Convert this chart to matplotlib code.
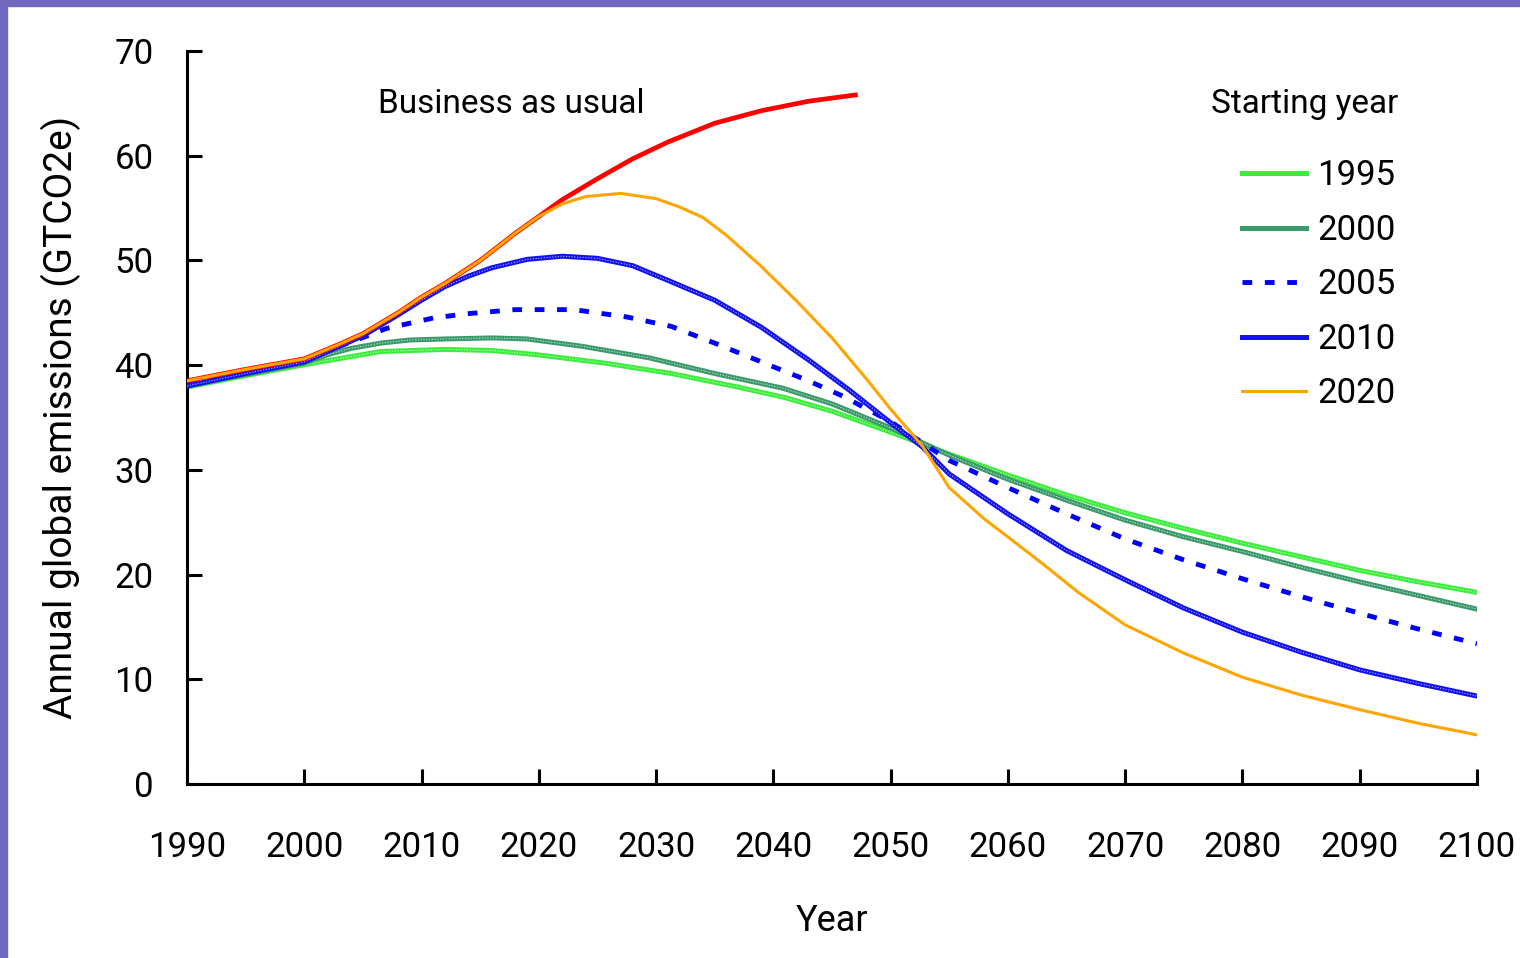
import matplotlib
matplotlib.use("Agg")
import matplotlib.pyplot as plt
import matplotlib.patches as mpatches

plt.rcParams["font.family"] = ["Roboto", "DejaVu Sans"]

# Business as usual
bau_years = [1990, 1995, 2000, 2003, 2005, 2008, 2010, 2012, 2015, 2018, 2020, 2022,
             2025, 2028, 2031, 2035, 2039, 2043, 2047]
bau_vals = [38.5, 39.6, 40.6, 42.0, 43.0, 45.0, 46.5, 47.8, 50.0, 52.6, 54.2, 55.8,
            57.8, 59.7, 61.3, 63.1, 64.3, 65.2, 65.8]

# Starting year 1995
y1995 = [1990, 1995, 2000.8, 2006.5, 2012, 2016, 2019.8, 2025.6, 2031.3, 2037, 2041, 2045,
         2050, 2055, 2060, 2065, 2070, 2075, 2080, 2085, 2090, 2095, 2100]
v1995 = [37.9, 39.0, 40.2, 41.3, 41.5, 41.4, 41.0, 40.2, 39.2, 37.9, 36.9, 35.6,
         33.6, 31.5, 29.5, 27.6, 25.9, 24.4, 23.0, 21.7, 20.4, 19.3, 18.3]

# Starting year 2000
y2000 = [1990, 1995, 2000, 2002, 2004, 2006.5, 2009, 2012, 2016, 2019, 2023.7, 2029.4,
         2035, 2040.8, 2045, 2050, 2055, 2060, 2065, 2070, 2075, 2080, 2085, 2090, 2095,
         2100]
v2000 = [38.0, 39.1, 40.2, 41.0, 41.6, 42.1, 42.4, 42.5, 42.6, 42.5, 41.8, 40.7,
         39.2, 37.8, 36.3, 34.0, 31.4, 29.1, 27.1, 25.2, 23.6, 22.2, 20.7, 19.3, 18.0,
         16.7]

# Starting year 2005
y2005 = [1990, 1995, 2000, 2003, 2005.4, 2007, 2009, 2011, 2013.8, 2018, 2023, 2027.5,
         2031.3, 2035, 2039, 2043, 2046, 2050, 2052.7, 2055, 2060, 2065, 2070, 2075,
         2080, 2085, 2090, 2095, 2100]
v2005 = [38.2, 39.3, 40.4, 41.8, 42.8, 43.5, 44.0, 44.5, 44.9, 45.3, 45.3, 44.6,
         43.7, 42.1, 40.3, 38.5, 37.0, 34.6, 32.6, 30.9, 28.3, 25.8, 23.4, 21.4,
         19.6, 17.9, 16.3, 14.8, 13.4]

# Starting year 2010
y2010 = [1990, 1995, 2000, 2005, 2008, 2010, 2012, 2014, 2016, 2019, 2022, 2025, 2028,
         2031, 2035, 2039, 2043, 2046.5, 2050, 2052.7, 2055, 2060, 2065, 2070, 2075, 2080,
         2085, 2090, 2095, 2100]
v2010 = [38.0, 39.2, 40.3, 42.8, 44.8, 46.2, 47.5, 48.5, 49.3, 50.1, 50.4, 50.2, 49.5,
         48.1, 46.2, 43.6, 40.5, 37.6, 34.5, 32.2, 29.6, 25.8, 22.3, 19.5, 16.8, 14.5,
         12.6, 10.9, 9.6, 8.4]

# Starting year 2020
y2020 = [1990, 1995, 2000, 2003, 2005, 2008, 2010, 2012, 2015, 2018, 2020, 2022, 2024,
         2027, 2030, 2032, 2034, 2036, 2039, 2042, 2045, 2048, 2050, 2052.7, 2055, 2058,
         2060, 2063, 2066, 2070, 2075, 2080, 2085, 2090, 2095, 2100]
v2020 = [38.5, 39.6, 40.6, 42.0, 43.0, 45.0, 46.5, 47.8, 50.0, 52.6, 54.2, 55.4, 56.1,
         56.4, 55.9, 55.1, 54.1, 52.4, 49.4, 46.1, 42.6, 38.6, 35.8, 32.3, 28.3, 25.3,
         23.6, 21.0, 18.3, 15.2, 12.5, 10.2, 8.5, 7.1, 5.8, 4.7]

xticks = list(range(1990, 2101, 10))
yticks = list(range(0, 71, 10))

fig = plt.figure(figsize=(15.2, 9.58), dpi=100)
ax = fig.add_axes([0.123, 0.1816, 0.8487, 0.7652])

dots = dict(color="white", lw=0.8, ls=(0, (1, 1.5)), alpha=0.7)

ax.plot(y1995, v1995, color="#3CEE3C", lw=3.6, zorder=2, label="1995")
ax.plot(y1995, v1995, zorder=2.1, **dots)
ax.plot(y2000, v2000, color="#3A9A6A", lw=3.6, zorder=3, label="2000")
ax.plot(y2000, v2000, zorder=3.1, **dots)
ax.plot(y2005, v2005, color="#0000FF", lw=3.5, ls=(0, (2, 2.6)), zorder=4, label="2005")
ax.plot(y2010, v2010, color="#1010F0", lw=3.6, zorder=5, label="2010")
ax.plot(y2010, v2010, zorder=5.1, **dots)
ax.plot(bau_years, bau_vals, color="#FF0000", lw=3.4, zorder=6)
ax.plot(y2020, v2020, color="#FFA500", lw=2.2, zorder=7, label="2020")

ax.set_xlim(1990, 2100)
ax.set_ylim(0, 70)
ax.set_xticks(xticks)
ax.set_yticks(yticks)
ax.spines["top"].set_visible(False)
ax.spines["right"].set_visible(False)
for s in ["left", "bottom"]:
    ax.spines[s].set_linewidth(2.2)
ax.tick_params(axis="x", direction="in", length=11, width=2.2, pad=34, labelsize=25)
ax.tick_params(axis="y", direction="in", length=11, width=2.2, pad=24, labelsize=25)

ax.set_xlabel("Year", fontsize=26, labelpad=28)
ax.set_ylabel("Annual global emissions (GTCO2e)", fontsize=28, labelpad=24)

ax.text(2006.3, 64.9, "Business as usual", fontsize=24, ha="left", va="center")
fig.text(1211 / 1520, 1 - 104 / 958, "Starting year", fontsize=24, ha="left", va="center")

leg = ax.legend(loc="upper left", bbox_to_anchor=(1211 / 1520, 1 - 128 / 958),
                bbox_transform=fig.transFigure, frameon=False, fontsize=25,
                handlelength=1.85, handletextpad=0.3, labelspacing=0.62)

# purple slide border
fig.patches.append(mpatches.Rectangle((0, 1 - 6 / 958), 1, 6 / 958, transform=fig.transFigure,
                                      color="#7068C0", zorder=10))
fig.patches.append(mpatches.Rectangle((0, 0), 7 / 1520, 1, transform=fig.transFigure,
                                      color="#7068C0", zorder=10))

fig.savefig("out.png", dpi=100)
